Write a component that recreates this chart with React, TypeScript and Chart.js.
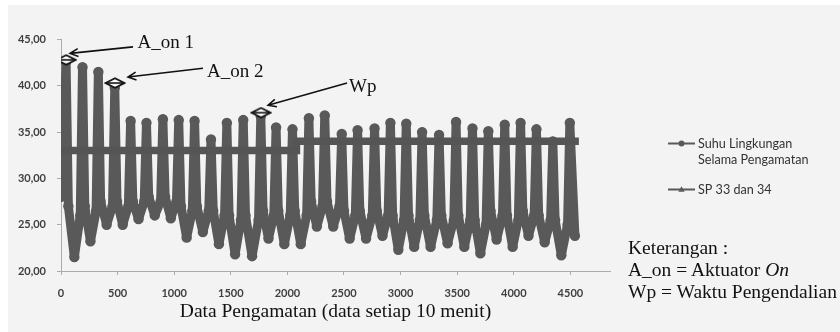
import React, { useEffect, useRef } from 'react';
import { Chart, registerables } from 'chart.js';

Chart.register(...registerables);

// ---------- axis settings ----------
const xMin = 0;
const xMax = 4850;
const xTicks = [0, 500, 1000, 1500, 2000, 2500, 3000, 3500, 4000, 4500];
const yMin = 20;
const yMax = 45;
const yStep = 5;

// ---------- Suhu Lingkungan ----------
const startIdx = 0;
const startTemp = 28.0;
const peakIdx = [45, 190, 330, 475, 615, 755, 900, 1040, 1180, 1325, 1465, 1610, 1765, 1900, 2045, 2190, 2330, 2480, 2620, 2770, 2910, 3050, 3190, 3340, 3490, 3635, 3775, 3920, 4060, 4200, 4345, 4495];
const peakTemp = [42.6, 42.0, 41.5, 39.8, 36.2, 36.0, 36.4, 36.3, 36.2, 34.2, 36.0, 36.3, 36.7, 35.5, 35.3, 36.5, 36.8, 34.8, 35.2, 35.4, 36.0, 35.9, 35.0, 34.7, 36.1, 35.4, 35.1, 35.8, 36.0, 35.3, 34.0, 36.0];
const duskIdx = [65, 210, 350, 495, 635, 775, 920, 1060, 1200, 1345, 1485, 1630, 1785, 1920, 2065, 2210, 2350, 2500, 2640, 2790, 2930, 3070, 3210, 3360, 3510, 3655, 3795, 3940, 4080, 4220, 4365];
const duskTemp = [27.0, 27.0, 27.5, 27.5, 27.5, 28.0, 28.0, 27.0, 27.0, 26.5, 26.0, 26.0, 26.5, 26.5, 26.5, 27.5, 27.5, 26.5, 26.5, 26.5, 26.0, 26.0, 26.0, 26.0, 26.0, 25.5, 26.5, 26.0, 26.5, 26.0, 25.5];
const troughIdx = [118, 260, 403, 545, 685, 828, 970, 1110, 1253, 1395, 1538, 1688, 1833, 1973, 2118, 2260, 2405, 2550, 2695, 2840, 2980, 3120, 3265, 3415, 3563, 3705, 3848, 3990, 4130, 4273, 4420];
const troughTemp = [21.5, 23.2, 25.0, 25.0, 25.6, 26.0, 25.7, 23.6, 24.2, 22.9, 21.8, 21.6, 23.5, 22.9, 22.9, 24.8, 24.8, 23.5, 23.5, 23.8, 22.3, 22.6, 22.6, 23.0, 22.6, 21.9, 23.4, 22.6, 23.8, 23.1, 21.7];
const dawnIdx = [170, 310, 455, 595, 735, 880, 1020, 1160, 1305, 1445, 1590, 1745, 1880, 2025, 2170, 2310, 2460, 2600, 2750, 2890, 3030, 3170, 3320, 3470, 3615, 3755, 3900, 4040, 4180, 4325, 4475];
const dawnTemp = [26.0, 26.5, 27.0, 27.0, 27.5, 27.5, 27.5, 26.5, 26.5, 26.0, 25.5, 25.5, 26.0, 26.0, 26.0, 27.0, 27.0, 26.0, 26.0, 26.0, 25.5, 25.5, 25.5, 25.5, 25.5, 25.0, 26.0, 25.5, 26.0, 25.5, 25.0];
const endIdx = 4540;
const endTemp = 23.8;

// ---------- SP 33 dan 34 ----------
const spIdx = [0, 2080, 2080, 4575];
const spValue = [33, 33, 34, 34];

// ---------- annotations ----------
const annLabels = ['A_on 1', 'A_on 2', 'Wp'];
const annMarkIdx = [46, 477, 1767];
const annMarkVal = [42.8, 40.3, 37.1];
const annTextIdx = [676, 1290, 2544];
const annTextVal = [44.6, 41.45, 39.85];
const annTailIdx = [636, 1254, 2527];
const annTailVal = [44.2, 41.9, 40.3];
const annHeadIdx = [80, 592, 1829];
const annHeadVal = [43.5, 40.95, 37.9];

const legendLabels = [['Suhu Lingkungan', 'Selama Pengamatan'], ['SP 33 dan 34']];

const SERIES_COLOR = '#595959';
const AXIS_COLOR = '#ababab';
const SERIF = '"Liberation Serif", "Times New Roman", serif';

function buildTempPoints() {
  const pts: { x: number; y: number }[] = [{ x: startIdx, y: startTemp }];
  for (let i = 0; i < peakIdx.length; i++) {
    pts.push({ x: peakIdx[i], y: peakTemp[i] });
    if (i < duskIdx.length) {
      pts.push({ x: duskIdx[i], y: duskTemp[i] });
      pts.push({ x: troughIdx[i], y: troughTemp[i] });
      pts.push({ x: dawnIdx[i], y: dawnTemp[i] });
    }
  }
  pts.push({ x: endIdx, y: endTemp });
  return pts;
}

function makeDiamond() {
  const c = document.createElement('canvas');
  c.width = 22;
  c.height = 12;
  const g = c.getContext('2d')!;
  g.beginPath();
  g.moveTo(1.5, 6);
  g.lineTo(11, 1.2);
  g.lineTo(20.5, 6);
  g.lineTo(11, 10.8);
  g.closePath();
  g.fillStyle = '#ffffff';
  g.fill();
  g.lineWidth = 1.8;
  g.strokeStyle = '#111';
  g.stroke();
  g.beginPath();
  g.moveTo(2, 6);
  g.lineTo(20, 6);
  g.lineWidth = 1.6;
  g.stroke();
  return c;
}

const annotationPlugin = {
  id: 'arrowsAndLegend',
  afterDatasetsDraw(chart: any) {
    const { ctx, scales } = chart;
    const xs = scales.x;
    const ys = scales.y;
    ctx.save();
    ctx.strokeStyle = '#111';
    ctx.fillStyle = '#111';
    ctx.lineWidth = 1.6;
    for (let i = 0; i < annLabels.length; i++) {
      const tx = xs.getPixelForValue(annTailIdx[i]);
      const ty = ys.getPixelForValue(annTailVal[i]);
      const hx = xs.getPixelForValue(annHeadIdx[i]);
      const hy = ys.getPixelForValue(annHeadVal[i]);
      ctx.beginPath();
      ctx.moveTo(tx, ty);
      ctx.lineTo(hx, hy);
      const ang = Math.atan2(ty - hy, tx - hx);
      const len = 9;
      const spread = 0.45;
      ctx.moveTo(hx + len * Math.cos(ang + spread), hy + len * Math.sin(ang + spread));
      ctx.lineTo(hx, hy);
      ctx.lineTo(hx + len * Math.cos(ang - spread), hy + len * Math.sin(ang - spread));
      ctx.stroke();
      ctx.font = '19px ' + SERIF;
      ctx.textAlign = 'left';
      ctx.textBaseline = 'middle';
      ctx.fillText(annLabels[i], xs.getPixelForValue(annTextIdx[i]), ys.getPixelForValue(annTextVal[i]));
    }
    ctx.restore();
  },
  afterDraw(chart: any) {
    const { ctx } = chart;
    ctx.save();
    ctx.strokeStyle = SERIES_COLOR;
    ctx.fillStyle = SERIES_COLOR;
    ctx.lineWidth = 2;
    ctx.beginPath();
    ctx.moveTo(668, 143.5);
    ctx.lineTo(695, 143.5);
    ctx.stroke();
    ctx.beginPath();
    ctx.arc(681.5, 143.5, 3, 0, Math.PI * 2);
    ctx.fill();
    ctx.beginPath();
    ctx.moveTo(668, 189.5);
    ctx.lineTo(695, 189.5);
    ctx.stroke();
    ctx.beginPath();
    ctx.moveTo(681.5, 186.3);
    ctx.lineTo(678.3, 191.7);
    ctx.lineTo(684.7, 191.7);
    ctx.closePath();
    ctx.fill();
    ctx.fillStyle = '#333';
    ctx.font = '12.6px Lato, "Open Sans", sans-serif';
    ctx.textAlign = 'left';
    ctx.textBaseline = 'middle';
    ctx.fillText(legendLabels[0][0], 698, 143.5);
    ctx.fillText(legendLabels[0][1], 698, 159.5);
    ctx.fillText(legendLabels[1][0], 698, 189.5);
    ctx.restore();
  },
};

function ChartCanvas() {
  const ref = useRef<HTMLCanvasElement>(null);
  useEffect(() => {
    if (!ref.current) return;
    const diamond = makeDiamond();
    const chart = new Chart(ref.current, {
      type: 'line',
      data: {
        datasets: [
          {
            label: 'Annotations',
            data: annMarkIdx.map((x, i) => ({ x, y: annMarkVal[i] })),
            showLine: false,
            pointStyle: diamond as any,
            pointRadius: 10,
            order: 0,
          },
          {
            label: 'SP 33 dan 34',
            data: spIdx.map((x, i) => ({ x, y: spValue[i] })),
            borderColor: '#555555',
            backgroundColor: '#555555',
            borderWidth: 7.5,
            pointRadius: 0,
            borderCapStyle: 'butt',
            order: 1,
          },
          {
            label: 'Suhu Lingkungan Selama Pengamatan',
            data: buildTempPoints(),
            borderColor: SERIES_COLOR,
            backgroundColor: SERIES_COLOR,
            borderWidth: 9,
            borderJoinStyle: 'round',
            borderCapStyle: 'round',
            pointRadius: 5.2,
            pointBorderWidth: 0,
            pointBackgroundColor: SERIES_COLOR,
            tension: 0,
            order: 2,
          },
        ],
      },
      options: {
        animation: false,
        responsive: true,
        maintainAspectRatio: false,
        devicePixelRatio: 1,
        layout: { padding: { left: 0, top: 39.5, right: 230, bottom: 0 } },
        plugins: {
          legend: { display: false },
          tooltip: { enabled: false },
        },
        scales: {
          x: {
            type: 'linear',
            min: xMin,
            max: xMax,
            afterFit: (s: any) => { s.height = 61; },
            afterBuildTicks: (s: any) => { s.ticks = xTicks.map((v) => ({ value: v })); },
            grid: { drawOnChartArea: false, drawTicks: true, tickLength: 4, color: AXIS_COLOR },
            border: { display: true, color: AXIS_COLOR, width: 1 },
            ticks: {
              padding: 12,
              maxRotation: 0,
              autoSkip: false,
              color: '#404040',
              font: { family: 'Lato', weight: 'bold', size: 11 },
              callback: (v: any) => String(v),
            },
            title: {
              display: true,
              text: 'Data Pengamatan (data setiap 10 menit)',
              color: '#111',
              font: { family: SERIF, size: 19.5 },
              padding: { top: 0, bottom: 8 },
            },
          },
          y: {
            type: 'linear',
            min: yMin,
            max: yMax,
            afterFit: (s: any) => { s.width = 61; },
            grid: { drawOnChartArea: false, drawTicks: true, tickLength: 4, color: AXIS_COLOR },
            border: { display: true, color: AXIS_COLOR, width: 1 },
            ticks: {
              stepSize: yStep,
              padding: 11,
              color: '#404040',
              font: { family: 'Lato', weight: 'bold', size: 11 },
              callback: (v: any) => Number(v).toFixed(2).replace('.', ','),
            },
          },
        },
      },
      plugins: [annotationPlugin],
    } as any);
    return () => chart.destroy();
  }, []);
  return <canvas ref={ref} />;
}

export default function App() {
  return (
    <div style={{ position: 'fixed', left: 0, top: 0, width: 840, height: 332, background: '#ffffff', overflow: 'hidden' }}>
      <div style={{ position: 'absolute', left: 8, top: 5, right: 0, bottom: 0, background: '#f3f3f3' }} />
      <div style={{ position: 'absolute', left: 0, top: 0, width: 840, height: 332 }}>
        <ChartCanvas />
      </div>
      <div
        style={{
          position: 'absolute',
          left: 628,
          top: 237,
          fontFamily: SERIF,
          fontSize: 19.5,
          lineHeight: '22px',
          color: '#111',
          whiteSpace: 'nowrap',
        }}
      >
        Keterangan :<br />
        A_on = Aktuator <i>On</i>
        <br />
        Wp = Waktu Pengendalian
      </div>
    </div>
  );
}
